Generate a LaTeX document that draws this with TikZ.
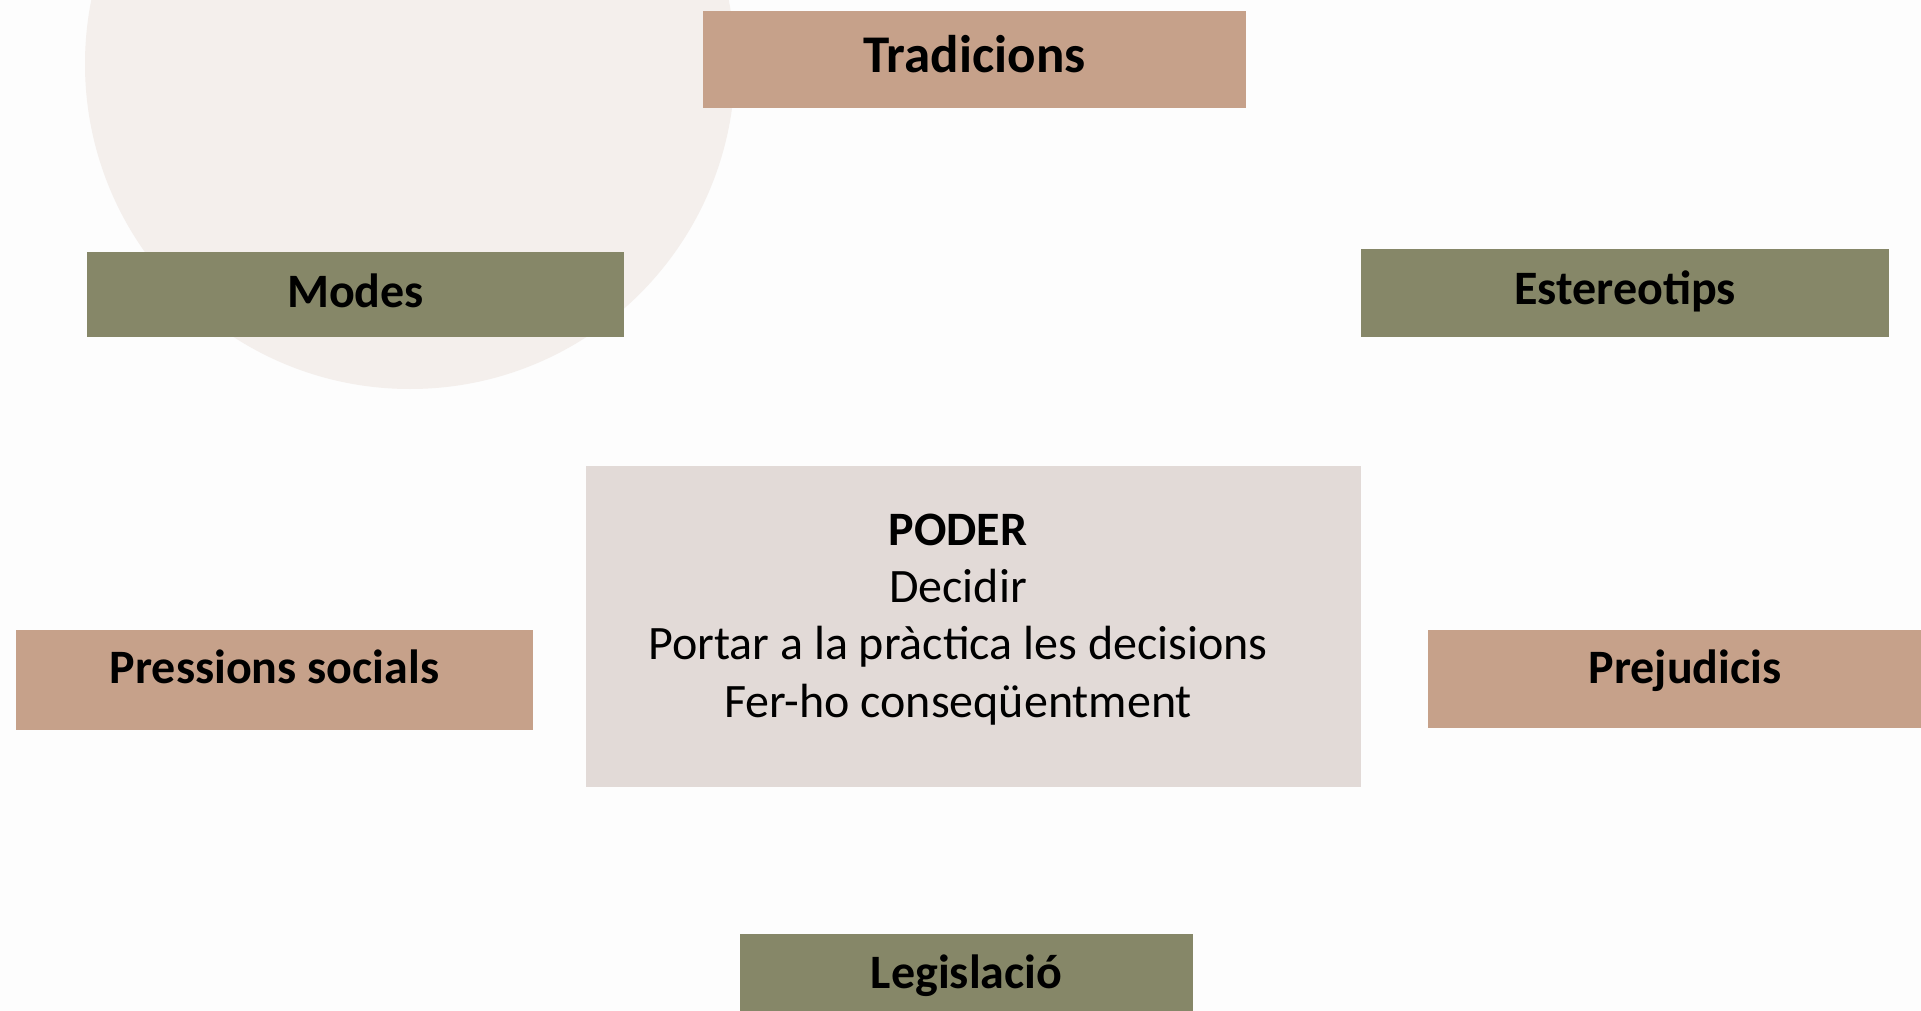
\documentclass[tikz,border=0pt]{standalone}
\usepackage{fontspec}
\setmainfont{Carlito}
\usetikzlibrary{positioning}

\definecolor{tancol}{HTML}{C6A18A}
\definecolor{olivecol}{HTML}{868768}
\definecolor{podercol}{HTML}{E2DAD7}
\definecolor{circcol}{HTML}{F4EFEC}
\definecolor{bgcol}{HTML}{FDFDFD}

\begin{document}
\begin{tikzpicture}[x=1pt, y=-1pt,
  tanbox/.style={rectangle, fill=tancol, inner sep=0pt},
  olivebox/.style={rectangle, fill=olivecol, inner sep=0pt},
  lbl/.style={font=\fontsize{48}{57}\selectfont\bfseries, anchor=base, inner sep=0pt},
  txt/.style={font=\fontsize{48}{57}\selectfont, anchor=base, inner sep=0pt}]

% Page and background
\useasboundingbox (0,0) rectangle (1921,1011);
\clip (0,0) rectangle (1921,1011);
\fill[bgcol] (0,0) rectangle (1921,1011);

% Soft circle at top left
\fill[circcol] (410,64) circle (325);

% Central box
\node[rectangle, fill=podercol, minimum width=775, minimum height=321] (poder) at (973.5,626.5) {};
\node[txt, font=\fontsize{48}{57}\selectfont\bfseries] (poderT) at (958,545) {PODER};
\node[txt] (decidir) at (958,602) {Decidir};
\node[txt] (portar) at (958,659) {Portar a la pràctica les decisions};
\node[txt] (ferho) at (958,717) {Fer-ho conseqüentment};

% Outer boxes
\node[tanbox, minimum width=543, minimum height=97] (trad) at (974.5,59.5) {};
\node[olivebox, minimum width=537, minimum height=85] (modes) at (355.5,294.5) {};
\node[olivebox, minimum width=528, minimum height=88] (estereo) at (1625,293) {};
\node[tanbox, minimum width=517, minimum height=100] (press) at (274.5,680) {};
\node[tanbox, minimum width=517, minimum height=98] (prej) at (1686.5,679) {};
\node[olivebox, minimum width=453, minimum height=100] (legis) at (966.5,984) {};

% Labels
\node[lbl, font=\fontsize{53}{60}\selectfont\bfseries] (tradT) at ([yshift=-62]trad.north) {Tradicions};
\node[lbl] (modesT) at ([yshift=-56]modes.north) {Modes};
\node[lbl] (estereoT) at ([yshift=-56]estereo.north) {Estereotips};
\node[lbl] (pressT) at ([yshift=-54]press.north) {Pressions socials};
\node[lbl, xshift=-1.5] (prejT) at ([yshift=-54]prej.north) {Prejudicis};
\node[lbl] (legisT) at ([yshift=-55]legis.north) {Legislació};

\end{tikzpicture}
\end{document}
